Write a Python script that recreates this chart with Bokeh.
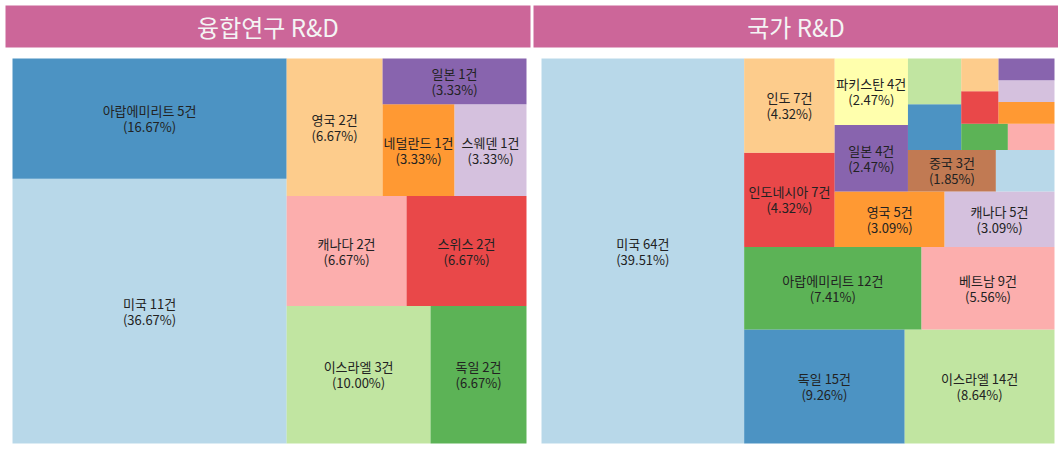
from bokeh.plotting import figure
from bokeh.layouts import row
from bokeh.embed import file_html
from bokeh.resources import INLINE
from bokeh.models import ColumnDataSource, Range1d
from bokeh.core.properties import value

# ---------------- data ----------------
PAIRED = ["#a6cee3", "#1f78b4", "#b2df8a", "#33a02c", "#fb9a99", "#e31a1c",
          "#fdbf6f", "#ff7f00", "#cab2d6", "#6a3d9a", "#ffff99", "#b15928"]

conv_title = "융합연구 R&D"
conv_countries = ["미국", "아랍에미리트", "이스라엘", "독일", "캐나다", "스위스",
                  "영국", "네덜란드", "스웨덴", "일본"]
conv_counts = [11, 5, 3, 2, 2, 2, 2, 1, 1, 1]

nat_title = "국가 R&D"
nat_countries = ["미국", "독일", "이스라엘", "아랍에미리트", "베트남", "인도네시아",
                 "인도", "영국", "캐나다", "일본", "파키스탄", "중국",
                 "", "", "", "", "", "", "", "", "", ""]
nat_counts = [64, 15, 14, 12, 9, 7, 7, 5, 5, 4, 4, 3,
              2, 2, 2, 1, 1, 1, 1, 1, 1, 1]

FONT = "Noto Sans CJK KR"
HEADER_COLOR = "#cc6699"


# ---------------- squarify (same algorithm as python squarify) ----------------
def normalize_sizes(sizes, dx, dy):
    total = sum(sizes)
    return [s * dx * dy / total for s in sizes]


def layoutrow(sizes, x, y, dx, dy):
    width = sum(sizes) / dy
    rects = []
    for s in sizes:
        rects.append((x, y, width, s / width))
        y += s / width
    return rects


def layoutcol(sizes, x, y, dx, dy):
    height = sum(sizes) / dx
    rects = []
    for s in sizes:
        rects.append((x, y, s / height, height))
        x += s / height
    return rects


def layout(sizes, x, y, dx, dy):
    return layoutrow(sizes, x, y, dx, dy) if dx >= dy else layoutcol(sizes, x, y, dx, dy)


def leftover(sizes, x, y, dx, dy):
    if dx >= dy:
        width = sum(sizes) / dy
        return x + width, y, dx - width, dy
    height = sum(sizes) / dx
    return x, y + height, dx, dy - height


def worst_ratio(sizes, x, y, dx, dy):
    return max(max(r[2] / r[3], r[3] / r[2]) for r in layout(sizes, x, y, dx, dy))


def squarify(sizes, x, y, dx, dy):
    if len(sizes) == 0:
        return []
    if len(sizes) == 1:
        return layout(sizes, x, y, dx, dy)
    i = 1
    while i < len(sizes) and worst_ratio(sizes[:i], x, y, dx, dy) >= worst_ratio(sizes[:i + 1], x, y, dx, dy):
        i += 1
    cur, rem = sizes[:i], sizes[i:]
    lx, ly, ldx, ldy = leftover(cur, x, y, dx, dy)
    return layout(cur, x, y, dx, dy) + squarify(rem, lx, ly, ldx, ldy)


# ---------------- panel ----------------
def make_panel(title, names, counts, fig_w, hdr_l, hdr_r, tm_l, tm_r, min_label):
    H = 448
    hdr_top, hdr_bot = 5, 47
    tm_top, tm_bot = 58, 443
    sx = (tm_r - tm_l) / 100.0
    sy = (tm_bot - tm_top) / 100.0
    x_start = -tm_l / sx
    x_end = (fig_w - tm_l) / sx
    y_end = 100 + tm_top / sy
    y_start = -(H - tm_bot) / sy

    p = figure(width=fig_w, height=H, x_range=Range1d(x_start, x_end),
               y_range=Range1d(y_start, y_end), toolbar_location=None,
               output_backend="svg", x_axis_location=None, y_axis_location=None,
               min_border=0)
    p.grid.visible = False
    p.outline_line_color = None
    p.background_fill_color = "white"
    p.border_fill_color = "white"

    total = sum(counts)
    sizes = normalize_sizes(counts, 100.0, 100.0)
    rects = squarify(sizes, 0.0, 0.0, 100.0, 100.0)

    src = ColumnDataSource(dict(
        left=[r[0] for r in rects],
        right=[r[0] + r[2] for r in rects],
        bottom=[r[1] for r in rects],
        top=[r[1] + r[3] for r in rects],
        color=[PAIRED[i % len(PAIRED)] for i in range(len(rects))],
    ))
    p.quad(left="left", right="right", bottom="bottom", top="top", source=src,
           fill_color="color", fill_alpha=0.8, line_color=None)

    lab = dict(cx=[], cy=[], name=[], pct=[])
    for r, n, c in zip(rects, names, counts):
        if c < min_label:
            continue
        lab["cx"].append(r[0] + r[2] / 2)
        lab["cy"].append(r[1] + r[3] / 2)
        lab["name"].append(f"{n} {c}건")
        lab["pct"].append(f"({c / total * 100:.2f}%)")
    lsrc = ColumnDataSource(lab)
    common = dict(source=lsrc, text_align="center", text_baseline="middle",
                  text_font=value(FONT), text_font_size="13px", text_color="#222222")
    p.text(x="cx", y="cy", text="name", y_offset=-8, **common)
    p.text(x="cx", y="cy", text="pct", y_offset=8, **common)

    # header band
    hl = (hdr_l - tm_l) / sx
    hr = (hdr_r - tm_l) / sx
    ht = 100 + (tm_top - hdr_top) / sy
    hb = 100 + (tm_top - hdr_bot) / sy
    p.quad(left=[hl], right=[hr], top=[ht], bottom=[hb], fill_color=HEADER_COLOR,
           line_color=None)
    p.text(x=[(hl + hr) / 2], y=[(ht + hb) / 2], text=[title], text_align="center",
           text_baseline="middle", text_font=value(FONT), text_font_size="24px",
           text_color="#f4f4f4")
    return p


p1 = make_panel(conv_title, conv_countries, conv_counts, 531, 5, 530, 12, 526, 1)
p2 = make_panel(nat_title, nat_countries, nat_counts, 527, 2, 527, 10, 523, 3)

layout_ = row(p1, p2)
open("out.html", "w").write(file_html(layout_, INLINE))
